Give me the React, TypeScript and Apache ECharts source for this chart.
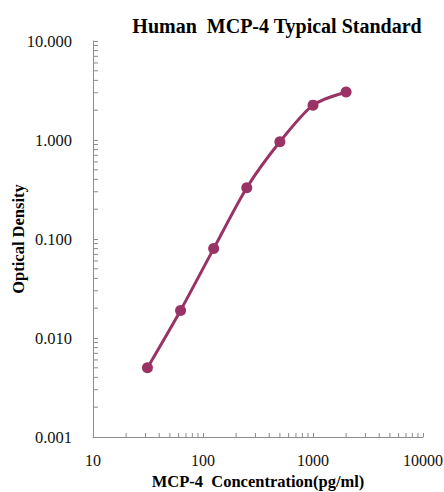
import React, { useEffect, useRef } from "react";
import * as echarts from "echarts";

const concentrations = [31.25, 62.5, 125, 250, 500, 1000, 2000];
const opticalDensity = [0.005, 0.019, 0.08, 0.33, 0.96, 2.25, 3.05];
const xMinorTicks = [20, 30, 40, 50, 60, 70, 80, 90, 200, 300, 400, 500, 600, 700, 800, 900, 2000, 3000, 4000, 5000, 6000, 7000, 8000, 9000];
const yMinorTicks = [
  0.002, 0.003, 0.004, 0.005, 0.006, 0.007, 0.008, 0.009,
  0.02, 0.03, 0.04, 0.05, 0.06, 0.07, 0.08, 0.09,
  0.2, 0.3, 0.4, 0.5, 0.6, 0.7, 0.8, 0.9,
  2, 3, 4, 5, 6, 7, 8, 9,
];
const X_MIN = 10;
const X_MAX = 10000;
const Y_MIN = 0.001;
const Y_MAX = 10;

const FONT = "'Liberation Serif', 'Times New Roman', serif";
const AXIS_COLOR = "#8c8c8c";
const LINE_COLOR = "#993366";

export default function App() {
  const ref = useRef<HTMLDivElement>(null);
  useEffect(() => {
    document.body.style.margin = "0";
    if (!ref.current) return;
    const chart = echarts.init(ref.current, null, { renderer: "svg" });
    chart.setOption({
      animation: false,
      backgroundColor: "#ffffff",
      title: {
        text: "Human  MCP-4 Typical Standard",
        left: 272,
        top: 11,
        textAlign: "center",
        textStyle: { fontFamily: FONT, fontWeight: "bold", fontSize: 20, color: "#000" },
      },
      grid: { left: 93, right: 21, top: 41, bottom: 55, containLabel: false, outerBoundsMode: "none" },
      xAxis: {
        type: "log",
        logBase: 10,
        min: X_MIN,
        max: X_MAX,
        name: "MCP-4  Concentration(pg/ml)",
        nameLocation: "middle",
        nameGap: 36,
        nameMoveOverlap: false,
        nameTextStyle: { fontFamily: FONT, fontWeight: "bold", fontSize: 16.5, color: "#000" },
        axisLine: { lineStyle: { color: AXIS_COLOR, width: 1 } },
        axisTick: { inside: true, length: 4, lineStyle: { color: AXIS_COLOR } },
        axisLabel: {
          fontFamily: FONT,
          fontSize: 16,
          color: "#111",
          margin: 15,
          formatter: (v: number) => String(Math.round(v)),
        },
        splitLine: { show: false },
      },
      yAxis: {
        type: "log",
        logBase: 10,
        min: Y_MIN,
        max: Y_MAX,
        name: "Optical Density",
        nameLocation: "middle",
        nameGap: 66,
        nameMoveOverlap: false,
        nameTextStyle: { fontFamily: FONT, fontWeight: "bold", fontSize: 16.5, color: "#000" },
        axisLine: { lineStyle: { color: AXIS_COLOR, width: 1 } },
        axisTick: { inside: true, length: 5, lineStyle: { color: AXIS_COLOR } },
        axisLabel: {
          fontFamily: FONT,
          fontSize: 16.5,
          color: "#111",
          margin: 21,
          formatter: (v: number) => v.toFixed(3),
        },
        splitLine: { show: false },
      },
      series: [
        {
          type: "custom",
          silent: true,
          clip: false,
          data: xMinorTicks.map((v) => [v, Y_MIN]),
          renderItem: (params: any, api: any) => {
            const p = api.coord([api.value(0), Y_MIN]);
            return {
              type: "line",
              shape: { x1: p[0], y1: p[1], x2: p[0], y2: p[1] - 4 },
              style: { stroke: AXIS_COLOR, lineWidth: 1 },
            };
          },
          z: 1,
        },
        {
          type: "custom",
          silent: true,
          clip: false,
          data: yMinorTicks.map((v) => [X_MIN, v]),
          renderItem: (params: any, api: any) => {
            const p = api.coord([X_MIN, api.value(1)]);
            return {
              type: "line",
              shape: { x1: p[0], y1: p[1], x2: p[0] + 5, y2: p[1] },
              style: { stroke: AXIS_COLOR, lineWidth: 1 },
            };
          },
          z: 1,
        },
        {
          type: "line",
          data: concentrations.map((c, i) => [c, opticalDensity[i]]),
          smooth: 0.25,
          symbol: "circle",
          symbolSize: 11,
          lineStyle: { color: LINE_COLOR, width: 3 },
          itemStyle: { color: LINE_COLOR },
          z: 3,
        },
      ],
    });
    return () => chart.dispose();
  }, []);
  return <div ref={ref} style={{ width: 444, height: 492 }} />;
}
